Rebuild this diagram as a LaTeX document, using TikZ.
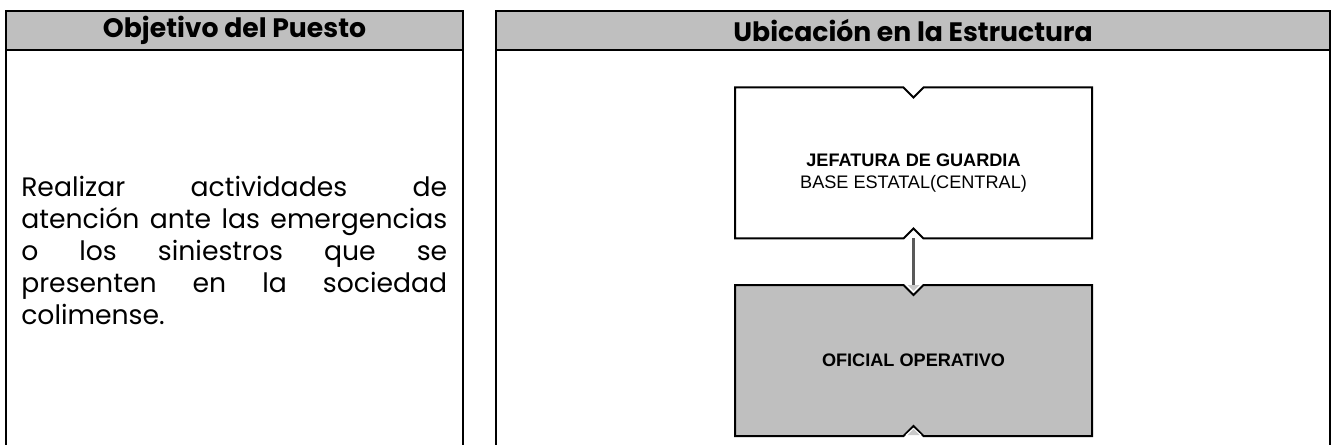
\documentclass[tikz,border=0pt]{standalone}
\usepackage{fontspec}
\setmainfont{Poppins}
\newfontfamily\arialf{Liberation Sans}
\usetikzlibrary{calc}
\definecolor{hdr}{HTML}{BFBFBF}
\tikzset{
  x=0.75pt,y=-0.75pt,
  panelhead/.style={draw=black,line width=1.5pt,outer sep=0pt,fill=hdr,inner sep=0pt,anchor=north west,minimum height=29.25pt,font=\fontsize{20}{22}\selectfont\bfseries},
  panelside/.style={draw=black,line width=1.5pt},
  orgbox/.style={inner sep=0pt,outer sep=0pt,minimum width=267.75pt,minimum height=113.25pt,align=center},
  orgtext/.style={inner sep=0pt,align=center,font=\arialf\fontsize{13.6}{16}\selectfont},
  orgline/.style={draw=black,line width=1.5pt,line join=miter},
  conn/.style={draw=black!65,line width=1.6pt},
}
\newcommand{\notched}[2]{%
  \fill[#2] (#1.north west) -- ($(#1.north)+(-10,0)$) -- ($(#1.north)+(0,10)$) -- ($(#1.north)+(10,0)$) -- (#1.north east) -- (#1.south east) -- ($(#1.south)+(10,0)$) -- ($(#1.south)+(0,-10)$) -- ($(#1.south)+(-10,0)$) -- (#1.south west) -- cycle;
  \draw[orgline] (#1.north west) -- ($(#1.north)+(-10,0)$) -- ($(#1.north)+(0,10)$) -- ($(#1.north)+(10,0)$) -- (#1.north east) -- (#1.south east) -- ($(#1.south)+(10,0)$) -- ($(#1.south)+(0,-10)$) -- ($(#1.south)+(-10,0)$) -- (#1.south west) -- cycle;
}
\begin{document}
\begin{tikzpicture}
\useasboundingbox (0,0) rectangle (1334,445);
\fill[white] (0,0) rectangle (1334,445);
% left panel
\node[panelhead,minimum width=342.75pt] (h1) at (6,11) {Objetivo del Puesto};
\coordinate (b1l) at (6,447);
\coordinate (b1r) at (463,447);
\draw[panelside] (h1.south west) -- (b1l);
\draw[panelside] (h1.south east) -- (b1r);
% right panel
\node[panelhead,minimum width=625.5pt] (h2) at (496,11) {Ubicación en la Estructura};
\coordinate (b2l) at (496,447);
\coordinate (b2r) at (1330,447);
\draw[panelside] (h2.south west) -- (b2l);
\draw[panelside] (h2.south east) -- (b2r);
% objective text
\node[anchor=north west,inner sep=0pt,text width=319.5pt,align=justify,font=\fontsize{20}{24}\selectfont] (obj) at (21,176)
  {Realizar actividades de\linebreak atención ante las emergencias\linebreak o los siniestros que se\linebreak presenten en la sociedad\linebreak colimense.};
% org boxes
\node[orgbox] (jefe) at (913.5,163) {};
\node[orgbox] (oficial) at (913.5,360.5) {};
\notched{jefe}{white}
\notched{oficial}{hdr}
\fill[white] ($(oficial.south)+(-8,-1)$) -- ($(oficial.south)+(0,-8)$) -- ($(oficial.south)+(8,-1)$) -- cycle;
\fill[hdr!85!white] ($(oficial.south)+(-6,-1)$) -- ($(oficial.south)+(0,-7)$) -- ($(oficial.south)+(6,-1)$) -- cycle;
\node[orgtext] (jt) at ($(jefe)+(0,10)$) {\textbf{JEFATURA DE GUARDIA}\\BASE ESTATAL(CENTRAL)};
\node[orgtext,font=\arialf\fontsize{13.6}{16}\selectfont\bfseries] (ot) at (oficial) {OFICIAL OPERATIVO};
\draw[conn] (jefe.south) -- (oficial.north);
\fill[hdr!85!white] ($(oficial.north)+(-6,0)$) -- ($(oficial.north)+(6,0)$) -- ($(oficial.north)+(0,6)$) -- cycle;
\end{tikzpicture}
\end{document}
